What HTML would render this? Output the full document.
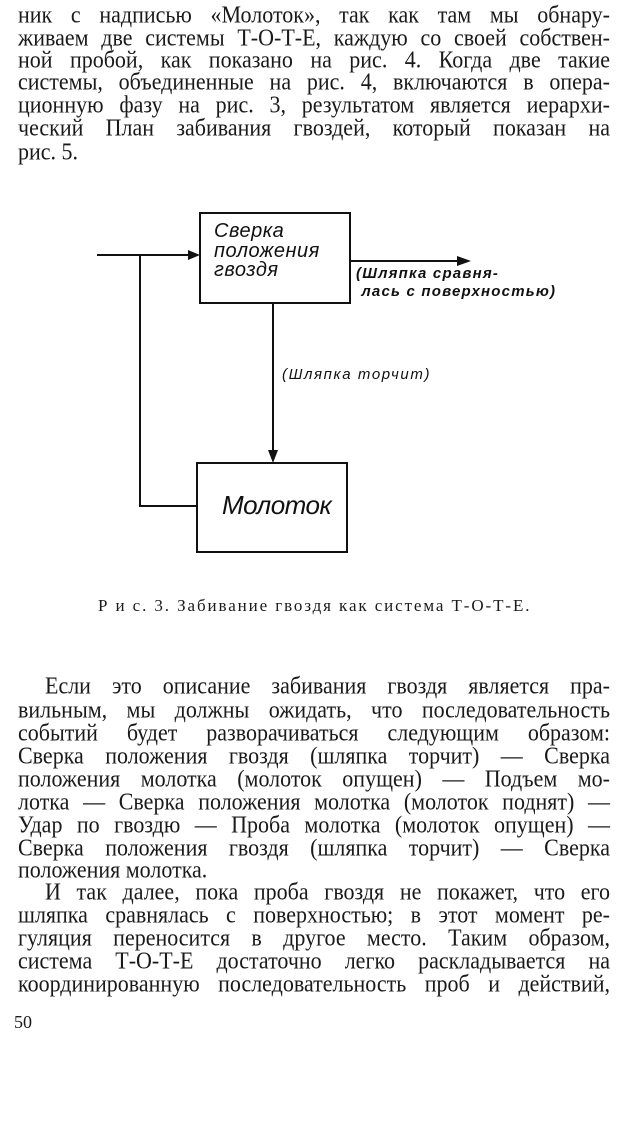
<!DOCTYPE html>
<html><head><meta charset="utf-8"><style>
body{margin:0;width:620px;height:1122px;background:#fff;position:relative;overflow:hidden;font-family:"Liberation Serif","DejaVu Serif",serif;color:#1a1a1a}
.l{position:absolute;left:18px;width:592px;font-size:22px;line-height:24px;white-space:nowrap;text-align:justify;text-align-last:justify;transform:scaleY(1.08);transform-origin:0 50%}
.n{text-align-last:left}
.d{position:absolute;font-family:"Liberation Sans","DejaVu Sans",sans-serif;font-style:italic;white-space:nowrap;color:#111}
</style></head><body>
<div class="l" style="top:3px">ник с надписью «Молоток», так как там мы обнару-</div>
<div class="l" style="top:26px">живаем две системы Т-О-Т-Е, каждую со своей собствен-</div>
<div class="l" style="top:48px">ной пробой, как показано на рис. 4. Когда две такие</div>
<div class="l" style="top:70px">системы, объединенные на рис. 4, включаются в опера-</div>
<div class="l" style="top:93px">ционную фазу на рис. 3, результатом является иерархи-</div>
<div class="l" style="top:116px">ческий План забивания гвоздей, который показан на</div>
<div class="l n" style="top:140px">рис. 5.</div>

<svg width="620" height="600" style="position:absolute;left:0;top:0" viewBox="0 0 620 600">
<g stroke="#111" stroke-width="2" fill="none">
<rect x="200" y="213" width="150" height="90"/>
<rect x="197" y="463" width="150" height="89"/>
<line x1="97" y1="255" x2="192" y2="255"/>
<line x1="140" y1="256" x2="140" y2="507"/>
<line x1="140" y1="506" x2="197" y2="506"/>
<line x1="273" y1="303" x2="273" y2="452"/>
<line x1="350" y1="261" x2="462" y2="261"/>
</g>
<g fill="#111">
<polygon points="200,255 188,250 188,260"/>
<polygon points="273,463 268,450 278,450"/>
<polygon points="471,261 457,256 457,266"/>
</g>
</svg>
<div class="d" style="left:214px;top:222px;font-size:20px;line-height:19.5px;letter-spacing:0.5px">Сверка<br>положения<br>гвоздя</div>
<div class="d" style="left:356px;top:265px;font-size:15px;line-height:18px;letter-spacing:1.2px;font-weight:bold">(Шляпка сравня-<br>&nbsp;лась с поверхностью)</div>
<div class="d" style="left:282px;top:366px;font-size:15px;letter-spacing:1.6px">(Шляпка торчит)</div>
<div class="d" style="left:222px;top:490px;font-size:26px;letter-spacing:-0.5px">Молоток</div>

<div style="position:absolute;left:98px;top:596px;font-size:17px;white-space:nowrap;letter-spacing:1.9px">Р и с. 3. Забивание гвоздя как система Т-О-Т-Е.</div>

<div class="l" style="top:674px;left:45px;width:565px">Если это описание забивания гвоздя является пра-</div>
<div class="l" style="top:698px">вильным, мы должны ожидать, что последовательность</div>
<div class="l" style="top:721px">событий будет разворачиваться следующим образом:</div>
<div class="l" style="top:744px">Сверка положения гвоздя (шляпка торчит) — Сверка</div>
<div class="l" style="top:767px">положения молотка (молоток опущен) — Подъем мо-</div>
<div class="l" style="top:790px">лотка — Сверка положения молотка (молоток поднят) —</div>
<div class="l" style="top:813px">Удар по гвоздю — Проба молотка (молоток опущен) —</div>
<div class="l" style="top:836px">Сверка положения гвоздя (шляпка торчит) — Сверка</div>
<div class="l n" style="top:858px">положения молотка.</div>
<div class="l" style="top:880px;left:45px;width:565px">И так далее, пока проба гвоздя не покажет, что его</div>
<div class="l" style="top:903px">шляпка сравнялась с поверхностью; в этот момент ре-</div>
<div class="l" style="top:926px">гуляция переносится в другое место. Таким образом,</div>
<div class="l" style="top:949px">система Т-О-Т-Е достаточно легко раскладывается на</div>
<div class="l" style="top:972px">координированную последовательность проб и действий,</div>
<div style="position:absolute;left:14px;top:1012px;font-size:18px">50</div>
</body></html>
